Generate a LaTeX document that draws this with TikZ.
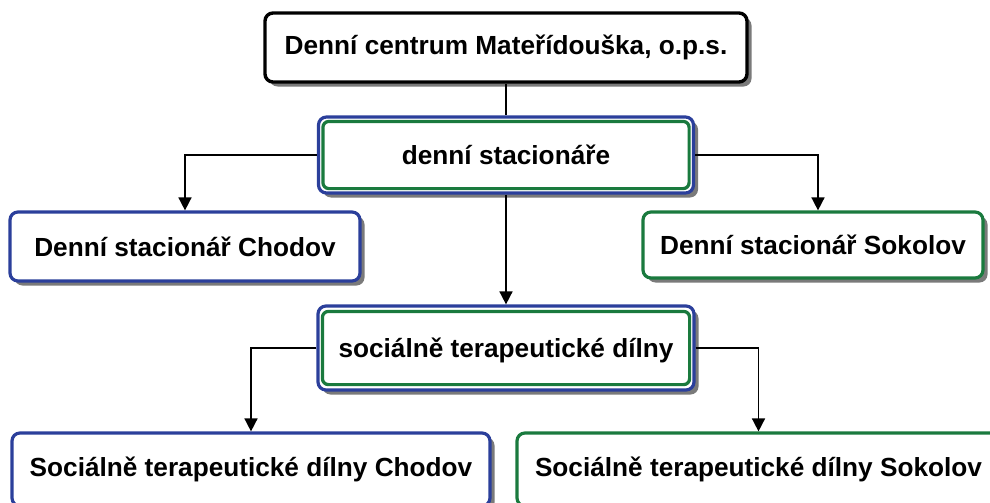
\documentclass[tikz,border=0pt]{standalone}
\usepackage{fontspec}
\setmainfont{Liberation Sans}
\usetikzlibrary{arrows.meta,shadows}
\definecolor{bblue}{HTML}{2B3F9B}
\definecolor{bgreen}{HTML}{1A7A3E}
\definecolor{shadowgray}{HTML}{7A7A7A}
\begin{document}
\begin{tikzpicture}[x=1pt,y=-1pt,
  box/.style={rectangle, rounded corners=8pt, fill=white, inner sep=0pt,
    font=\fontsize{26.2}{30}\selectfont\bfseries,
    drop shadow={shadow xshift=4.5pt, shadow yshift=-4.5pt, fill=shadowgray, opacity=1}},
  blackbox/.style={box, draw=black, line width=3.4pt},
  bluebox/.style={box, draw=bblue, line width=3.2pt},
  greenbox/.style={box, draw=bgreen, line width=3.2pt},
  innergreen/.style={draw=bgreen, line width=3.2pt, rounded corners=6pt},
  conn/.style={line width=1.6pt, black},
  arr/.style={conn, -{Triangle[length=13pt,width=13pt]}}
]
\useasboundingbox (0,0) rectangle (990,503);
\node[blackbox, minimum width=482pt, minimum height=69pt] (top) at (506,47.5) {Denní centrum Mateřídouška, o.p.s.};
\node[bluebox, minimum width=375pt, minimum height=76pt] (stat) at (506,155) {denní stacionáře};
\draw[innergreen] ([shift={(6,6)}]stat.north west) rectangle ([shift={(-6,-6)}]stat.south east);
\node[bluebox, minimum width=350pt, minimum height=69pt] (chod) at (185,246.5) {Denní stacionář Chodov};
\node[greenbox, minimum width=340pt, minimum height=66pt] (soko) at (813,245) {Denní stacionář Sokolov};
\node[bluebox, minimum width=376pt, minimum height=84pt] (std) at (506,348) {};
\draw[innergreen] ([shift={(6,7)}]std.north west) rectangle ([shift={(-6,-7)}]std.south east);
\node[font=\fontsize{26.2}{30}\selectfont\bfseries] (stdtext) at (506,350) {sociálně terapeutické dílny};
\node[bluebox, minimum width=478pt, minimum height=73pt] (stdch) at (251,469.5) {Sociálně terapeutické dílny Chodov};
\node[greenbox, minimum width=483pt, minimum height=73pt] (stdso) at (758.5,469.5) {Sociálně terapeutické dílny Sokolov};

\draw[conn] (top.south) -- (stat.north);
\draw[arr] (stat.west) -| (chod.north);
\draw[arr] (stat.east) -| ([xshift=5pt]soko.north);
\draw[arr] (stat.south) -- (std.north);
\draw[arr] (std.west) -| (stdch.north);
\draw[arr] (std.east) -| (stdso.north);
\end{tikzpicture}
\end{document}
